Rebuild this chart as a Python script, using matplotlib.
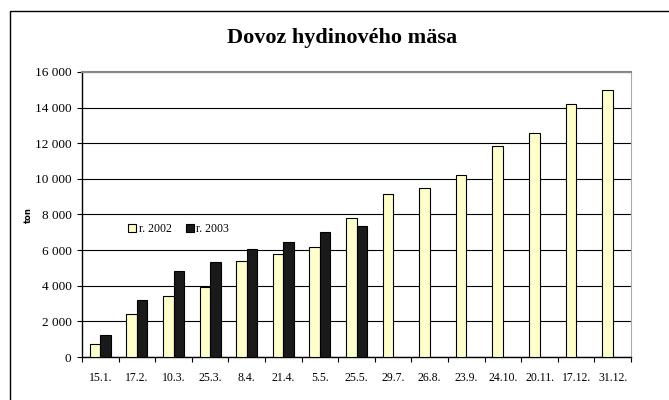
import numpy as np
import matplotlib.pyplot as plt
from matplotlib.patches import Rectangle

plt.rcParams['font.family'] = ['Liberation Serif', 'DejaVu Serif']

# data
dates = ['15.1.', '17.2.', '10.3.', '25.3.', '8.4.', '21.4.', '5.5.', '25.5.',
         '29.7.', '26.8.', '23.9.', '24.10.', '20.11.', '17.12.', '31.12.']
r2002 = [750, 2400, 3450, 3950, 5400, 5800, 6200, 7820,
         9170, 9500, 10230, 11840, 12560, 14200, 15000]
r2003 = [1220, 3220, 4850, 5320, 6080, 6480, 7000, 7350]

W, H = 669, 400
fig = plt.figure(figsize=(W / 100, H / 100), dpi=100)
# outer chart frame (only left/top edges visible)
fig.patches.append(Rectangle((10 / W, -0.1), 1.2, 1 - 11 / H + 0.1,
                             transform=fig.transFigure, fill=False,
                             edgecolor='black', linewidth=1.0))

ax = fig.add_axes([82 / W, 1 - 357 / H, (631 - 82) / W, (357 - 72) / H])

x = np.arange(len(dates))
w = 1 / 3.5
ax.bar(x[:len(r2002)] - w / 2, r2002, w, color='#ffffcc', edgecolor='black',
       linewidth=0.8, label='r. 2002', zorder=3)
ax.bar(x[:len(r2003)] + w / 2, r2003, w, color='#1a1a1a', edgecolor='black',
       linewidth=0.8, label='r. 2003', zorder=3)

ax.set_xlim(-0.5, len(dates) - 0.5)
ax.set_ylim(0, 16000)
yt = np.arange(0, 16001, 2000)
ax.set_yticks(yt)
ax.set_yticklabels([f'{v:,}'.replace(',', ' ') for v in yt], fontsize=9.5)
ax.set_xticks(x)
ax.set_xticklabels(dates, fontsize=8.5)
ax.tick_params(axis='x', length=0, pad=11)
ax.set_xticks(np.arange(-0.5, len(dates), 1), minor=True)
ax.tick_params(axis='x', which='minor', length=3.5, direction='out', width=0.8)
ax.tick_params(axis='y', length=3.5, direction='out', width=0.8, pad=4)

ax.grid(axis='y', color='black', linewidth=0.8, zorder=0)
ax.spines['top'].set_color('#888888')
ax.spines['right'].set_color('#aaaaaa')
ax.spines['top'].set_linewidth(1.5)
for s in ['left', 'bottom']:
    ax.spines[s].set_linewidth(1.0)

fig.text(28 / W, 1 - 215 / H, 'ton', rotation=90, fontsize=6, fontweight='bold',
         family='DejaVu Sans', ha='center', va='center')
fig.text(342 / W, 1 - 38 / H, 'Dovoz hydinového mäsa', fontsize=16,
         fontweight='bold', ha='center', va='center')

ax.legend(loc='center left', bbox_to_anchor=(122 / W, 1 - 229 / H),
          bbox_transform=fig.transFigure, ncol=2, frameon=False,
          fontsize=8.5, handlelength=0.7, handleheight=0.7, handletextpad=0.2,
          columnspacing=1.2, borderpad=0)

fig.savefig('out.png', dpi=100)
